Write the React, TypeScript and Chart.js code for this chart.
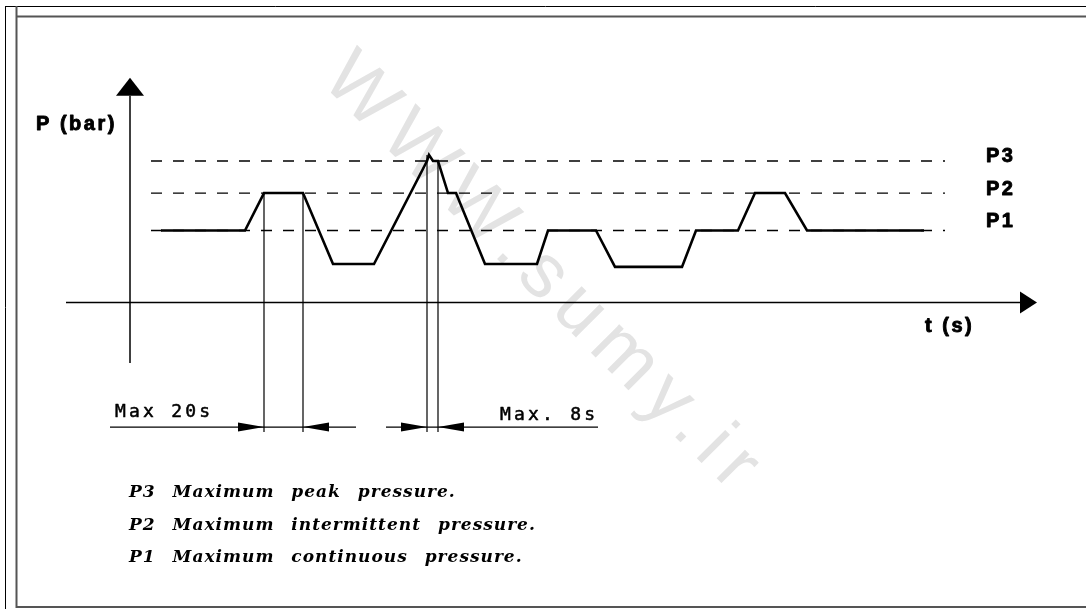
import React, { useEffect, useRef } from 'react';
import { Chart, registerables } from 'chart.js';

Chart.register(...registerables);

// ---- data (time units / pressure units) ----
const times = [6.2, 23, 26.8, 34.6, 40.6, 48.8, 59.4, 59.8, 60.6, 61.6, 63.6, 65.2, 71, 81.4, 83.6, 93.2, 97, 110.4, 113.2, 121.6, 125, 131, 135.4, 158.8];
const pressures = [2, 2, 3.04, 3.04, 1.07, 1.07, 3.93, 4.1, 3.93, 3.93, 3.04, 3.04, 1.07, 1.07, 2, 2, 0.99, 0.99, 2, 2, 3.04, 3.04, 2, 2];

const levelLabels = ['P3', 'P2', 'P1'];
const levelValues = [3.93, 3.04, 2.0];
const levelStart = 4.2;
const levelEnd = 163;

const markerTimes = [26.8, 34.6, 59.4, 61.6];
const markerTops = [3.04, 3.04, 4.1, 3.93];
const markerBottom = -3.6;
const arrowDirs = [1, -1, 1, -1];

const dimLevel = -3.46;
const dimStarts = [-4, 51.2];
const dimEnds = [45.2, 93.6];
const dimTexts = ['Max 20s', 'Max. 8s'];

const xAxisRange = [-12.8, 178, 181.4]; // start, arrow base, arrow tip
const yAxisRange = [-1.68, 5.74, 6.24];

const legendLines = [
  ['P3', 'Maximum', 'peak', 'pressure.'],
  ['P2', 'Maximum', 'intermittent', 'pressure.'],
  ['P1', 'Maximum', 'continuous', 'pressure.'],
];

const X_MIN = -26;
const X_MAX = 191.2;
const Y_MIN = -8.514;
const Y_MAX = 8.403;

const line = (pts: { x: number; y: number }[], extra: any = {}) => ({
  data: pts,
  showLine: true,
  borderColor: '#000',
  borderWidth: 1.3,
  pointRadius: 0,
  pointHoverRadius: 0,
  fill: false,
  tension: 0,
  ...extra,
});

const heavyText = (ctx: CanvasRenderingContext2D, s: string, x: number, y: number, w: number) => {
  ctx.fillText(s, x, y);
  ctx.lineWidth = w;
  ctx.strokeText(s, x, y);
};

const drawingPlugin = {
  id: 'drawing',
  beforeDatasetsDraw(chart: any) {
    const ctx = chart.ctx as CanvasRenderingContext2D;
    ctx.save();
    // watermark
    ctx.translate(544, 276);
    ctx.rotate(Math.PI / 4);
    ctx.fillStyle = '#e3e3e3';
    ctx.font = '76px "Liberation Sans", Arial, sans-serif';
    (ctx as any).letterSpacing = '11px';
    ctx.textAlign = 'center';
    ctx.textBaseline = 'middle';
    ctx.fillText('WWW.sumy.ir', 0, 0);
    ctx.restore();

    // frame
    ctx.save();
    ctx.strokeStyle = '#000';
    ctx.lineWidth = 1;
    ctx.beginPath();
    ctx.moveTo(5, 6.5);
    ctx.lineTo(1086, 6.5);
    ctx.moveTo(5.5, 6);
    ctx.lineTo(5.5, 609);
    ctx.stroke();
    ctx.strokeStyle = '#555';
    ctx.lineWidth = 2;
    ctx.beginPath();
    ctx.moveTo(16, 16.5);
    ctx.lineTo(1086, 16.5);
    ctx.moveTo(16.5, 6);
    ctx.lineTo(16.5, 608);
    ctx.moveTo(16, 607);
    ctx.lineTo(1086, 607);
    ctx.stroke();
    ctx.restore();
  },
  afterDatasetsDraw(chart: any) {
    const ctx = chart.ctx as CanvasRenderingContext2D;
    const xs = chart.scales.x;
    const ys = chart.scales.y;
    const px = (v: number) => xs.getPixelForValue(v);
    const py = (v: number) => ys.getPixelForValue(v);
    ctx.save();
    ctx.fillStyle = '#000';
    ctx.strokeStyle = '#000';

    // x axis arrow
    const y0 = py(0);
    ctx.beginPath();
    ctx.moveTo(px(xAxisRange[1]), y0 - 11);
    ctx.lineTo(px(xAxisRange[2]), y0);
    ctx.lineTo(px(xAxisRange[1]), y0 + 11);
    ctx.closePath();
    ctx.fill();

    // y axis arrow
    const x0 = px(0);
    ctx.beginPath();
    ctx.moveTo(x0 - 14, py(yAxisRange[1]));
    ctx.lineTo(x0, py(yAxisRange[2]));
    ctx.lineTo(x0 + 14, py(yAxisRange[1]));
    ctx.closePath();
    ctx.fill();

    // dimension arrows
    const yd = py(dimLevel);
    markerTimes.forEach((t, i) => {
      const tip = px(t);
      const tail = tip - arrowDirs[i] * 26;
      ctx.beginPath();
      ctx.moveTo(tail, yd - 4.5);
      ctx.lineTo(tip, yd);
      ctx.lineTo(tail, yd + 4.5);
      ctx.closePath();
      ctx.fill();
    });

    // texts
    ctx.textBaseline = 'alphabetic';
    ctx.textAlign = 'left';
    ctx.lineJoin = 'round';
    ctx.font = 'bold 20px "Liberation Sans", Arial, sans-serif';
    (ctx as any).letterSpacing = '2.5px';
    heavyText(ctx, 'P (bar)', 36, 130, 0.9);
    heavyText(ctx, 't (s)', 925, 332, 0.9);
    const labelBaselines = [162, 195, 227];
    levelLabels.forEach((lab, i) => heavyText(ctx, lab, 986, labelBaselines[i], 0.9));

    ctx.font = '18px "DejaVu Sans Mono", monospace';
    (ctx as any).letterSpacing = '3.2px';
    heavyText(ctx, dimTexts[0], 115, 417, 0.5);
    heavyText(ctx, dimTexts[1], 500, 420, 0.5);

    ctx.font = 'italic bold 17px "DejaVu Serif", serif';
    (ctx as any).letterSpacing = '1px';
    const legendBaselines = [497, 530, 562];
    legendLines.forEach((words, li) => {
      let x = 129;
      words.forEach((w) => {
        ctx.fillText(w, x, legendBaselines[li]);
        x += ctx.measureText(w).width + 17;
      });
    });
    ctx.restore();
  },
};

export default function App() {
  const ref = useRef<HTMLCanvasElement>(null);
  useEffect(() => {
    if (!ref.current) return;
    const datasets: any[] = [];
    datasets.push(
      line(times.map((t, i) => ({ x: t, y: pressures[i] })), { borderWidth: 2.6 })
    );
    levelValues.forEach((v) => {
      datasets.push(
        line([{ x: levelStart, y: v }, { x: levelEnd, y: v }], { borderDash: [11, 11], borderWidth: 1.3 })
      );
    });
    datasets.push(line([{ x: xAxisRange[0], y: 0 }, { x: xAxisRange[1], y: 0 }], { borderWidth: 1.5 }));
    datasets.push(line([{ x: 0, y: yAxisRange[0] }, { x: 0, y: yAxisRange[1] }], { borderWidth: 1.5 }));
    markerTimes.forEach((t, i) => {
      datasets.push(line([{ x: t, y: markerTops[i] }, { x: t, y: markerBottom }], { borderWidth: 1.2 }));
    });
    dimStarts.forEach((s, i) => {
      datasets.push(line([{ x: s, y: dimLevel }, { x: dimEnds[i], y: dimLevel }], { borderWidth: 1.3 }));
    });

    const chart = new Chart(ref.current, {
      type: 'scatter',
      data: { datasets },
      options: {
        animation: false,
        responsive: false,
        devicePixelRatio: 1,
        layout: { padding: 0 },
        events: [],
        scales: {
          x: { type: 'linear', min: X_MIN, max: X_MAX, display: false },
          y: { type: 'linear', min: Y_MIN, max: Y_MAX, display: false },
        },
        plugins: { legend: { display: false }, tooltip: { enabled: false } },
      },
      plugins: [drawingPlugin],
    } as any);
    return () => chart.destroy();
  }, []);

  return (
    <div style={{ position: 'fixed', left: 0, top: 0, width: 1086, height: 609, background: '#fff' }}>
      <canvas ref={ref} width={1086} height={609} style={{ display: 'block', width: 1086, height: 609 }} />
    </div>
  );
}
